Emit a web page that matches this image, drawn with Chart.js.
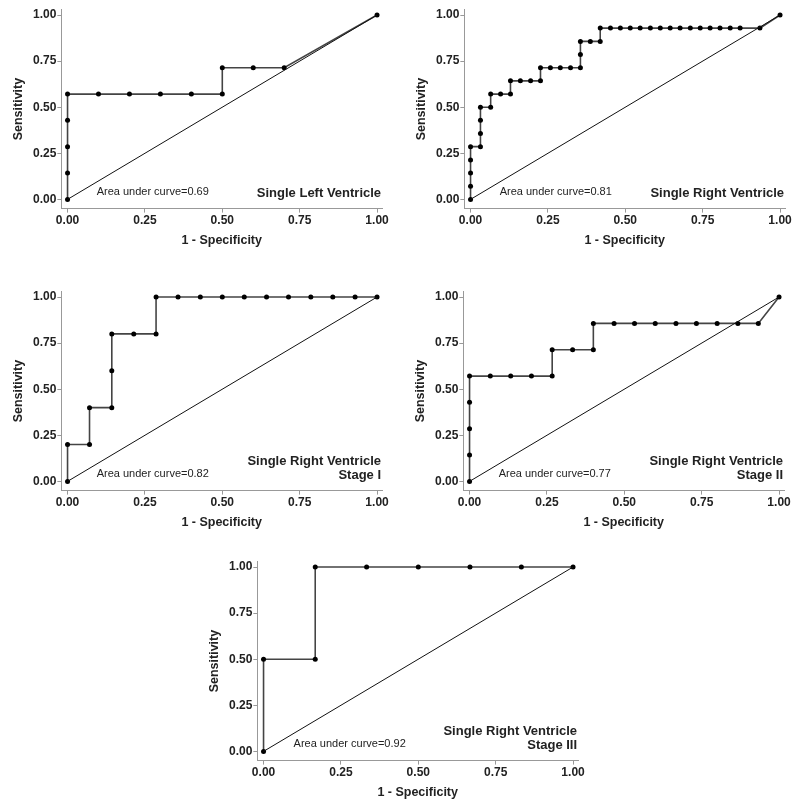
<!DOCTYPE html>
<html>
<head>
<meta charset="utf-8">
<script src="https://cdn.jsdelivr.net/npm/chart.js@4.4.1/dist/chart.umd.min.js"></script>
<style>
  body { margin: 0; background: #fff; width: 800px; height: 808px; position: relative; overflow: hidden; }
  .panel { position: absolute; width: 400px; height: 256px; }
</style>
</head>
<body>
<div class="panel" style="left:0px;top:0px"><canvas id="c1"></canvas></div>
<div class="panel" style="left:403px;top:0px"><canvas id="c2"></canvas></div>
<div class="panel" style="left:0px;top:282px"><canvas id="c3"></canvas></div>
<div class="panel" style="left:402px;top:282px"><canvas id="c4"></canvas></div>
<div class="panel" style="left:196px;top:552px"><canvas id="c5"></canvas></div>
<script>
// tick labels shared by every panel
const tickVals = [0, 0.25, 0.5, 0.75, 1];

// Single Left Ventricle
const slvFpr = [0, 0, 0, 0, 0, 0.1, 0.2, 0.3, 0.4, 0.5, 0.5, 0.6, 0.7, 1];
const slvTpr = [0, 0.143, 0.286, 0.429, 0.571, 0.571, 0.571, 0.571, 0.571, 0.571, 0.714, 0.714, 0.714, 1];

// Single Right Ventricle
const srvFpr = [0, 0, 0, 0, 0, 0.032, 0.032, 0.032, 0.032, 0.065, 0.065, 0.097, 0.129, 0.129, 0.161, 0.194, 0.226, 0.226,
  0.258, 0.290, 0.323, 0.355, 0.355, 0.355, 0.387, 0.419, 0.419, 0.452, 0.484, 0.516, 0.548, 0.581, 0.613, 0.645,
  0.677, 0.710, 0.742, 0.774, 0.806, 0.839, 0.871, 0.935, 1];
const srvTpr = [0, 0.071, 0.143, 0.214, 0.286, 0.286, 0.357, 0.429, 0.5, 0.5, 0.571, 0.571, 0.571, 0.643, 0.643, 0.643, 0.643, 0.714,
  0.714, 0.714, 0.714, 0.714, 0.786, 0.857, 0.857, 0.857, 0.929, 0.929, 0.929, 0.929, 0.929, 0.929, 0.929, 0.929,
  0.929, 0.929, 0.929, 0.929, 0.929, 0.929, 0.929, 0.929, 1];

// Single Right Ventricle Stage I
const st1Fpr = [0, 0, 0.071, 0.071, 0.143, 0.143, 0.143, 0.214, 0.286, 0.286, 0.357, 0.429, 0.5, 0.571, 0.643, 0.714, 0.786, 0.857, 0.929, 1];
const st1Tpr = [0, 0.2, 0.2, 0.4, 0.4, 0.6, 0.8, 0.8, 0.8, 1, 1, 1, 1, 1, 1, 1, 1, 1, 1, 1];

// Single Right Ventricle Stage II
const st2Fpr = [0, 0, 0, 0, 0, 0.067, 0.133, 0.2, 0.267, 0.267, 0.333, 0.4, 0.4, 0.467, 0.533, 0.6, 0.667, 0.733, 0.8, 0.867, 0.933, 1];
const st2Tpr = [0, 0.143, 0.286, 0.429, 0.571, 0.571, 0.571, 0.571, 0.571, 0.714, 0.714, 0.714, 0.857, 0.857, 0.857, 0.857, 0.857, 0.857, 0.857, 0.857, 0.857, 1];

// Single Right Ventricle Stage III
const st3Fpr = [0, 0, 0.167, 0.167, 0.333, 0.5, 0.667, 0.833, 1];
const st3Tpr = [0, 0.5, 0.5, 1, 1, 1, 1, 1, 1];

const FONT = '"Liberation Sans", Arial, Helvetica, sans-serif';

// text inside the plot: AUC note and group name (right aligned)
const notes = {
  id: 'notes',
  afterDatasetsDraw(chart, args, opts) {
    const { ctx, scales: { x, y } } = chart;
    ctx.save();
    ctx.fillStyle = '#222';
    ctx.textBaseline = 'middle';
    ctx.font = '11px ' + FONT;
    ctx.textAlign = 'left';
    ctx.fillText('Area under curve=' + opts.auc, x.getPixelForValue(opts.aucX), y.getPixelForValue(0.04));
    ctx.font = 'bold 13px ' + FONT;
    ctx.textAlign = 'right';
    const n = opts.label.length;
    opts.label.forEach((line, i) => {
      const py = y.getPixelForValue(0.032) - (n - 1 - i) * 14.5;
      ctx.fillText(line, x.getPixelForValue(1.013), py);
    });
    ctx.restore();
  }
};

function makeRoc(id, fpr, tpr, label, auc, aucX) {
  const axisCommon = {
    type: 'linear',
    afterBuildTicks: s => { s.ticks = tickVals.map(v => ({ value: v })); },
    grid: { display: true, drawOnChartArea: false, drawTicks: true, tickLength: 4, color: '#999' },
    border: { display: true, color: '#999', width: 1 },
    ticks: { color: '#222', font: { family: FONT, size: 12, weight: 'bold' }, padding: 1,
      callback: v => v.toFixed(2) }
  };
  new Chart(document.getElementById(id), {
    type: 'scatter',
    data: {
      datasets: [
        {
          data: [{ x: 0, y: 0 }, { x: 1, y: 1 }],
          showLine: true, borderColor: '#111', borderWidth: 1, pointRadius: 0
        },
        {
          data: fpr.map((v, i) => ({ x: v, y: tpr[i] })),
          showLine: true, borderColor: '#444', borderWidth: 1.6,
          pointRadius: 2.5, pointBackgroundColor: '#000', pointBorderColor: '#000', pointBorderWidth: 0
        }
      ]
    },
    options: {
      responsive: true,
      maintainAspectRatio: false,
      animation: false,
      layout: { padding: { left: 11, right: 18, top: 9.5, bottom: 8 } },
      plugins: {
        legend: { display: false },
        tooltip: { enabled: false },
        notes: { label: label, auc: auc, aucX: aucX }
      },
      scales: {
        x: Object.assign({}, axisCommon, {
          min: -0.02, max: 1.016,
          title: { display: true, text: '1 - Specificity', color: '#222',
            font: { family: FONT, size: 12.5, weight: 'bold' }, padding: { top: 4, bottom: 0 } }
        }),
        y: Object.assign({}, axisCommon, {
          min: -0.05, max: 1.03,
          title: { display: true, text: 'Sensitivity', color: '#222',
            font: { family: FONT, size: 12.5, weight: 'bold' }, padding: { top: 0, bottom: 6 } }
        })
      }
    },
    plugins: [notes]
  });
}

makeRoc('c1', slvFpr, slvTpr, ['Single Left Ventricle'], '0.69', 0.094);
makeRoc('c2', srvFpr, srvTpr, ['Single Right Ventricle'], '0.81', 0.094);
makeRoc('c3', st1Fpr, st1Tpr, ['Single Right Ventricle', 'Stage I'], '0.82', 0.094);
makeRoc('c4', st2Fpr, st2Tpr, ['Single Right Ventricle', 'Stage II'], '0.77', 0.094);
makeRoc('c5', st3Fpr, st3Tpr, ['Single Right Ventricle', 'Stage III'], '0.92', 0.097);
</script>
</body>
</html>
